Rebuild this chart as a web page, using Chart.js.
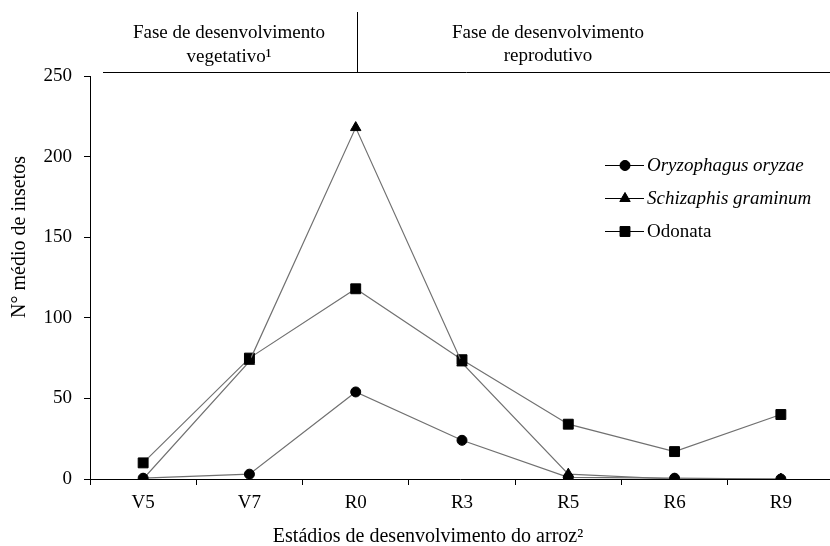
<!DOCTYPE html>
<html>
<head>
<meta charset="utf-8">
<script src="https://cdn.jsdelivr.net/npm/chart.js@4.4.0/dist/chart.umd.min.js"></script>
<style>
  html, body { margin: 0; padding: 0; background: #fff; }
  #wrap { width: 830px; height: 546px; }
</style>
</head>
<body>
<div id="wrap"><canvas id="insectChart" width="830" height="546"></canvas></div>
<script>
// Data
const stages = ['V5', 'V7', 'R0', 'R3', 'R5', 'R6', 'R9'];
const oryzophagus = [0.5, 3, 54, 24, 1, 0.5, 0];
const schizaphis = [0, 73, 218, 72, 3, 0, 0];
const odonata = [10, 75, 118, 74, 34, 17, 40];
const yTicks = [0, 50, 100, 150, 200, 250];

const seriesNames = ['Oryzophagus oryzae', 'Schizaphis graminum', 'Odonata'];
const FONT = '"Liberation Serif", "Times New Roman", serif';
const LINE = '#707070';
const PLOT_RIGHT = 834; // original plot runs a few px past the crop

Chart.defaults.font.family = FONT;
Chart.defaults.color = '#000';

// Phase header, axis titles and legend
const extras = {
  id: 'extras',
  afterLayout(chart) {
    // stretch the x axis past the right edge like the source figure
    const x = chart.scales.x;
    x.right = PLOT_RIGHT;
    x.width = x.right - x.left;
    x.configure();
    chart.chartArea.right = PLOT_RIGHT;
    chart.chartArea.width = PLOT_RIGHT - chart.chartArea.left;
  },
  afterDraw(chart) {
    const ctx = chart.ctx;
    ctx.save();
    ctx.strokeStyle = '#000';
    ctx.lineWidth = 1;

    // phase header
    ctx.beginPath();
    ctx.moveTo(103, 72.5);
    ctx.lineTo(830, 72.5);
    ctx.moveTo(357.5, 12);
    ctx.lineTo(357.5, 72);
    ctx.stroke();

    ctx.fillStyle = '#000';
    ctx.textAlign = 'center';
    ctx.textBaseline = 'alphabetic';
    ctx.font = '19px ' + FONT;
    ctx.fillText('Fase de desenvolvimento', 229, 38);
    ctx.fillText('vegetativo\u00B9', 229, 62);
    ctx.fillText('Fase de desenvolvimento', 548, 38);
    ctx.fillText('reprodutivo', 548, 61);

    // axis titles
    ctx.textBaseline = 'middle';
    ctx.font = '20px ' + FONT;
    ctx.fillText('Est\u00E1dios de desenvolvimento do arroz\u00B2', 428, 537);
    ctx.save();
    ctx.translate(20, 237);
    ctx.rotate(-Math.PI / 2);
    ctx.fillText('N\u00B0 m\u00E9dio de insetos', 0, 0);
    ctx.restore();

    // legend
    const rows = [165, 198, 231];
    chart.data.datasets.forEach((ds, i) => {
      const y = rows[i];
      ctx.strokeStyle = '#000';
      ctx.lineWidth = 1;
      ctx.beginPath();
      ctx.moveTo(605, y + 0.5);
      ctx.lineTo(644, y + 0.5);
      ctx.stroke();
      ctx.fillStyle = '#000';
      Chart.helpers.drawPoint(ctx, {
        pointStyle: ds.pointStyle,
        radius: ds.pointRadius,
        rotation: 0,
        borderWidth: 1
      }, 625, y + 0.5);
      ctx.fill();
      ctx.textAlign = 'left';
      ctx.font = (i < 2 ? 'italic ' : '') + '19px ' + FONT;
      ctx.fillText(seriesNames[i], 647, y + 1);
    });
    ctx.restore();
  }
};

function makeSet(label, data, style, radius) {
  return {
    label: label,
    data: data,
    borderColor: LINE,
    borderWidth: 1.2,
    pointStyle: style,
    pointRadius: radius,
    pointHoverRadius: radius,
    pointBackgroundColor: '#000',
    pointBorderColor: '#000',
    pointBorderWidth: 1,
    tension: 0,
    fill: false
  };
}

const ctx = document.getElementById('insectChart').getContext('2d');
const chart = new Chart(ctx, {
  type: 'line',
  data: {
    labels: stages,
    datasets: [
      makeSet(seriesNames[0], oryzophagus, 'circle', 5),
      makeSet(seriesNames[1], schizaphis, 'triangle', 6),
      makeSet(seriesNames[2], odonata, 'rect', 7)
    ]
  },
  options: {
    responsive: false,
    animation: false,
    devicePixelRatio: 1,
    layout: { autoPadding: false, padding: { top: 76, right: 0, left: 0, bottom: 0 } },
    plugins: {
      legend: { display: false },
      tooltip: { enabled: false }
    },
    scales: {
      x: {
        type: 'category',
        offset: true,
        afterFit: s => { s.height = 67; s.paddingLeft = 0; s.paddingRight = 0; },
        grid: {
          offset: true,
          drawOnChartArea: false,
          drawTicks: true,
          tickLength: 6,
          color: '#000'
        },
        border: { color: '#000', width: 1 },
        ticks: { color: '#000', font: { size: 19 }, padding: 7, maxRotation: 0 }
      },
      y: {
        min: 0,
        max: 250,
        afterFit: s => { s.width = 90; s.paddingTop = 0; s.paddingBottom = 0; },
        afterBuildTicks: s => { s.ticks = yTicks.map(v => ({ value: v })); },
        grid: {
          drawOnChartArea: false,
          drawTicks: true,
          tickLength: 6,
          color: '#000'
        },
        border: { color: '#000', width: 1 },
        ticks: { color: '#000', font: { size: 19 }, padding: 12 }
      }
    }
  },
  plugins: [extras]
});
</script>
</body>
</html>
